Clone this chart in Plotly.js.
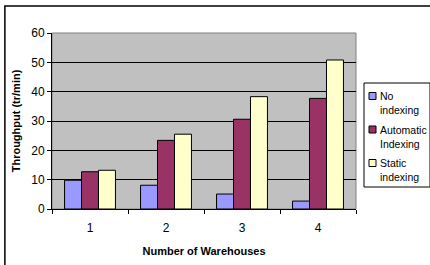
<!DOCTYPE html>
<html><head><meta charset="utf-8">
<script src="https://cdn.plot.ly/plotly-3.0.1.min.js"></script>
<style>html,body{margin:0;padding:0;background:#fff;}#c{width:430px;height:265px;}</style>
</head><body><div id="c"></div>
<script>
const categories = ["1", "2", "3", "4"];
const noIndexing = [9.8, 8.1, 5.1, 2.7];
const automaticIndexing = [12.7, 23.4, 30.6, 37.7];
const staticIndexing = [13.2, 25.5, 38.3, 50.8];
const seriesNames = ["No<br>indexing", "Automatic<br>Indexing", "Static<br>indexing"];
const seriesColors = ["#9999FF", "#993366", "#FFFFCC"];

const series = [noIndexing, automaticIndexing, staticIndexing];
const data = series.map((vals, i) => ({
  type: "bar", x: categories, y: vals, name: seriesNames[i],
  marker: {color: seriesColors[i], line: {color: "#000", width: 1}}
}));

const font = {family: "Liberation Sans, Arial, sans-serif", color: "#000"};

// pixel -> paper helpers (plot area 52..356 x, 33..209 y)
const px = p => (p - 52) / 304;
const py = p => (209 - p) / 176;

const shapes = [
  {type: "rect", xref: "paper", yref: "paper", x0: 0, x1: 1, y0: 0, y1: 1,
    line: {color: "#808080", width: 1}, layer: "below"},
  {type: "rect", xref: "paper", yref: "paper", x0: -0.155, x1: 1.25, y0: -0.34, y1: 1.153,
    line: {color: "#000", width: 1.5}},
  {type: "rect", xref: "paper", yref: "paper", x0: px(364), x1: px(430), y0: py(187), y1: py(83),
    fillcolor: "#fff", line: {color: "#000", width: 1}}
];
const annotations = [];
seriesNames.forEach((name, i) => {
  const cy = 96 + i * 33.5;
  shapes.push({type: "rect", xref: "paper", yref: "paper",
    x0: px(369), x1: px(376), y0: py(cy + 3.5), y1: py(cy - 3.5),
    fillcolor: seriesColors[i], line: {color: "#000", width: 1}});
  annotations.push({xref: "paper", yref: "paper", x: px(378), y: py(cy - 8),
    xanchor: "left", yanchor: "top", align: "left", showarrow: false,
    text: name, font: Object.assign({size: 10.5}, font)});
});

const layout = {
  width: 430, height: 265,
  margin: {l: 52, r: 74, t: 33, b: 56, autoexpand: false},
  paper_bgcolor: "#fff", plot_bgcolor: "#C0C0C0",
  font: Object.assign({size: 11}, font),
  barmode: "group", bargap: 0.33, bargroupgap: 0,
  showlegend: false,
  xaxis: {type: "category", tickson: "boundaries", ticks: "outside", ticklen: 4,
    tickcolor: "#000", showline: true, linecolor: "#000", linewidth: 1,
    showgrid: false, tickfont: Object.assign({size: 12}, font), ticklabelstandoff: 8,
    title: {text: "<b>Number of Warehouses</b>", font: Object.assign({size: 11}, font), standoff: 12}},
  yaxis: {range: [0, 60], dtick: 10, ticks: "outside", ticklen: 4, tickcolor: "#000",
    showline: true, linecolor: "#000", linewidth: 1,
    showgrid: true, gridcolor: "#000", gridwidth: 1,
    tickfont: Object.assign({size: 12}, font),
    title: {text: "<b>Throughput (tr/min)</b>", font: Object.assign({size: 11}, font), standoff: 8}},
  shapes: shapes,
  annotations: annotations
};
Plotly.newPlot("c", data, layout, {staticPlot: true});
</script></body></html>
